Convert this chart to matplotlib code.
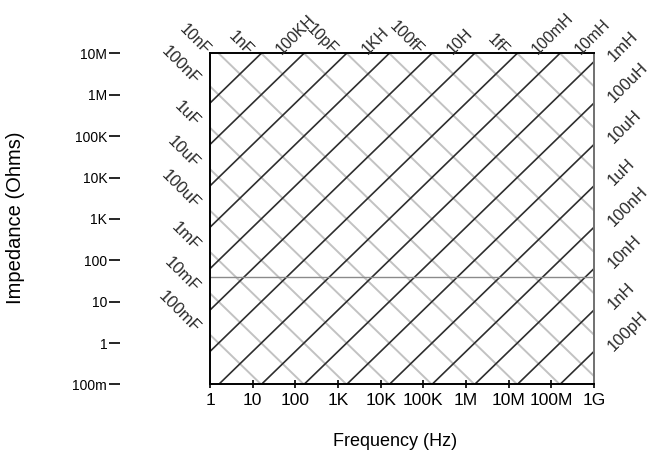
import numpy as np
import matplotlib
matplotlib.use("Agg")
import matplotlib.pyplot as plt

# reactance grid: one capacitor and one inductor line per decade
CAPS = [1e-16, 1e-15, 1e-14, 1e-13, 1e-12, 1e-11, 1e-10, 1e-9,
        1e-8, 1e-7, 1e-6, 1e-5, 1e-4, 1e-3, 1e-2, 1e-1]
INDS = [1e-10, 1e-9, 1e-8, 1e-7, 1e-6, 1e-5, 1e-4, 1e-3,
        1e-2, 1e-1, 1, 10, 100, 1e3, 1e4, 1e5]

# labels that are readable in the picture
LEFT_CAP_LABELS = ["100nF", "1uF", "10uF", "100uF", "1mF", "10mF", "100mF"]
LEFT_CAP_VALUES = [1e-7, 1e-6, 1e-5, 1e-4, 1e-3, 1e-2, 1e-1]
TOP_CAP_LABELS = ["10nF", "1nF", "10pF", "100fF", "1fF"]
TOP_CAP_VALUES = [1e-8, 1e-9, 1e-11, 1e-13, 1e-15]
TOP_IND_LABELS = ["100KH", "1KH", "10H", "100mH", "10mH"]
TOP_IND_VALUES = [1e5, 1e3, 10, 0.1, 0.01]
RIGHT_IND_LABELS = ["1mH", "100uH", "10uH", "1uH", "100nH", "10nH", "1nH", "100pH"]
RIGHT_IND_VALUES = [1e-3, 1e-4, 1e-5, 1e-6, 1e-7, 1e-8, 1e-9, 1e-10]

REF_Z = 40  # horizontal reference line (ohms)

X_TICKS = [1, 10, 100, 1e3, 1e4, 1e5, 1e6, 1e7, 1e8, 1e9]
X_TICKLABELS = ["1", "10", "100", "1K", "10K", "100K", "1M", "10M", "100M", "1G"]
Y_TICKS = [1e-1, 1, 10, 100, 1e3, 1e4, 1e5, 1e6, 1e7]
Y_TICKLABELS = ["100m", "1", "10", "100", "1K", "10K", "100K", "1M", "10M"]

F_MIN, F_MAX = 1, 1e9
Z_MIN, Z_MAX = 1e-1, 1e7

plt.rcParams["font.family"] = ["Liberation Sans", "DejaVu Sans"]

fig = plt.figure(figsize=(6.53, 4.58), dpi=100, facecolor="white")
ax = fig.add_axes([0.3216, 0.1605, 0.588, 0.7231])
ax.set_xscale("log")
ax.set_yscale("log")
ax.set_xlim(F_MIN, F_MAX)
ax.set_ylim(Z_MIN, Z_MAX)

f = np.array([F_MIN, F_MAX])
for C in CAPS:
    ax.plot(f, 1 / (2 * np.pi * f * C), color="#c2c2c2", lw=1.4, zorder=1)
for L in INDS:
    ax.plot(f, 2 * np.pi * f * L, color="#2e2e2e", lw=1.2, zorder=2)
ax.axhline(REF_Z, color="#8a8a8a", lw=1.0, zorder=3)


def cap_anchor(C):
    # where a capacitor line leaves the plot: left edge or top edge
    z = 1 / (2 * np.pi * F_MIN * C)
    if z <= Z_MAX:
        return (F_MIN, z), (-13, -1), 12
    return (1 / (2 * np.pi * C * Z_MAX), Z_MAX), (-12, -3.5), 11.5


def ind_anchor(L):
    # where an inductor line leaves the plot: right edge or top edge
    z = 2 * np.pi * F_MAX * L
    if z <= Z_MAX:
        return (F_MAX, z), (15.5, -1.5), 12
    return (Z_MAX / (2 * np.pi * L), Z_MAX), (16.5, -3), 11.5


for lab, C in zip(LEFT_CAP_LABELS + TOP_CAP_LABELS, LEFT_CAP_VALUES + TOP_CAP_VALUES):
    xy, off, fs = cap_anchor(C)
    ax.annotate(lab, xy=xy, xytext=off, textcoords="offset points",
                rotation=-45, rotation_mode="anchor", ha="right", va="bottom",
                fontsize=fs, color="#2a2a2a", annotation_clip=False)
for lab, L in zip(TOP_IND_LABELS + RIGHT_IND_LABELS, TOP_IND_VALUES + RIGHT_IND_VALUES):
    xy, off, fs = ind_anchor(L)
    ax.annotate(lab, xy=xy, xytext=off, textcoords="offset points",
                rotation=45, rotation_mode="anchor", ha="left", va="bottom",
                fontsize=fs, color="#2a2a2a", annotation_clip=False)

# axes frame: y ticks sit on a detached axis further left
ax.spines["left"].set_position(("outward", 65))
ax.spines["left"].set_visible(False)
ax.axvline(F_MIN, color="black", lw=1.4, clip_on=False, zorder=4)
for side in ("top", "bottom"):
    ax.spines[side].set_color("black")
    ax.spines[side].set_linewidth(1.4)
ax.spines["right"].set_color("#707070")
ax.spines["right"].set_linewidth(1.4)

ax.set_xticks(X_TICKS)
ax.set_xticklabels(X_TICKLABELS)
ax.set_yticks(Y_TICKS)
ax.set_yticklabels(Y_TICKLABELS)
ax.minorticks_off()
ax.tick_params(axis="x", direction="inout", length=6, width=1.2, labelsize=12.5, pad=3)
ax.tick_params(axis="y", direction="out", length=8, width=1.2, labelsize=10, pad=1)

ax.set_xlabel("Frequency (Hz)", fontsize=13)
ax.set_ylabel("Impedance (Ohms)", fontsize=14.5)
ax.xaxis.set_label_coords(0.482, -0.145)
ax.yaxis.set_label_coords(-0.482, 0.503)

fig.savefig("out.png", dpi=100, facecolor="white")
